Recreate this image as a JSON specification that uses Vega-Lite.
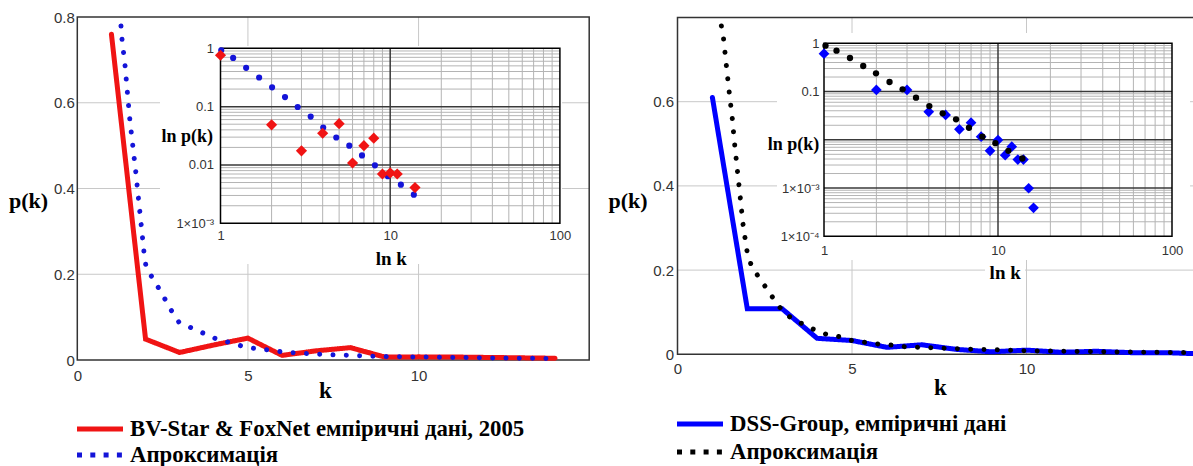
{
  "$schema": "https://vega.github.io/schema/vega-lite/v6.json",
  "width": 1193,
  "height": 466,
  "autosize": "none",
  "padding": 0,
  "background": "white",
  "config": {
    "view": {"stroke": null},
    "axis": {
      "domain": false, "ticks": false, "grid": false,
      "labelFont": "Liberation Sans Narrow, Liberation Sans, sans-serif",
      "labelColor": "#333", "labelFlush": false, "labelOverlap": false,
      "titleFont": "Liberation Serif", "titleFontWeight": "bold", "titleColor": "#000",
      "titleAlign": "center", "titleBaseline": "middle"
    }
  },
  "datasets": {
    "left_emp": [
      {"k": 1, "p": 0.76}, {"k": 2, "p": 0.0487}, {"k": 3, "p": 0.0175}, {"k": 4, "p": 0.035},
      {"k": 5, "p": 0.051}, {"k": 6, "p": 0.0108}, {"k": 7, "p": 0.0214}, {"k": 8, "p": 0.0288},
      {"k": 9, "p": 0.007}, {"k": 10, "p": 0.0073}, {"k": 11, "p": 0.007}, {"k": 14, "p": 0.0041}
    ],
    "left_fit_main": [
      {"k": 1.28, "p": 0.779}, {"k": 1.31, "p": 0.748}, {"k": 1.40, "p": 0.686}, {"k": 1.47, "p": 0.622},
      {"k": 1.54, "p": 0.56}, {"k": 1.63, "p": 0.497}, {"k": 1.72, "p": 0.434}, {"k": 1.80, "p": 0.371},
      {"k": 1.88, "p": 0.309}, {"k": 1.96, "p": 0.246}, {"k": 2.02, "p": 0.215}, {"k": 2.27, "p": 0.183},
      {"k": 2.50, "p": 0.152}, {"k": 2.72, "p": 0.12}, {"k": 2.98, "p": 0.088}, {"k": 3.37, "p": 0.074},
      {"k": 3.74, "p": 0.061}, {"k": 4.13, "p": 0.047}, {"k": 4.51, "p": 0.04}, {"k": 4.88, "p": 0.031},
      {"k": 5.26, "p": 0.026}, {"k": 5.63, "p": 0.023}, {"k": 6.0, "p": 0.019}, {"k": 6.5, "p": 0.016},
      {"k": 7.0, "p": 0.014}, {"k": 7.5, "p": 0.012}, {"k": 8.0, "p": 0.011}, {"k": 8.5, "p": 0.009},
      {"k": 9.0, "p": 0.008}, {"k": 10.0, "p": 0.007}, {"k": 11.0, "p": 0.006}, {"k": 12.0, "p": 0.005},
      {"k": 13.0, "p": 0.004}, {"k": 14.0, "p": 0.0035}
    ],
    "left_fit_inset": [
      {"k": 1.01, "p": 0.925}, {"k": 1.187, "p": 0.684}, {"k": 1.416, "p": 0.462}, {"k": 1.689, "p": 0.316},
      {"k": 2.014, "p": 0.214}, {"k": 2.40, "p": 0.146}, {"k": 2.85, "p": 0.0987}, {"k": 3.40, "p": 0.0675},
      {"k": 4.03, "p": 0.0438}, {"k": 4.81, "p": 0.0296}, {"k": 5.74, "p": 0.0214}, {"k": 6.82, "p": 0.0146},
      {"k": 8.13, "p": 0.00987}, {"k": 9.69, "p": 0.0064}, {"k": 11.56, "p": 0.0046}, {"k": 13.78, "p": 0.0031}
    ],
    "right_emp": [
      {"k": 1, "p": 0.61}, {"k": 2, "p": 0.108}, {"k": 3, "p": 0.108}, {"k": 4, "p": 0.038},
      {"k": 5, "p": 0.0327}, {"k": 6, "p": 0.0165}, {"k": 7, "p": 0.0226}, {"k": 8, "p": 0.0116},
      {"k": 9, "p": 0.0059}, {"k": 10, "p": 0.0099}, {"k": 11, "p": 0.0048}, {"k": 12, "p": 0.0072},
      {"k": 13, "p": 0.0039}, {"k": 14, "p": 0.0039}, {"k": 15, "p": 0.00099}, {"k": 16, "p": 0.00039}
    ],
    "right_fit_main": [
      {"k": 1.257, "p": 0.78}, {"k": 1.32, "p": 0.749}, {"k": 1.40, "p": 0.686}, {"k": 1.48, "p": 0.624},
      {"k": 1.57, "p": 0.56}, {"k": 1.64, "p": 0.497}, {"k": 1.72, "p": 0.434}, {"k": 1.80, "p": 0.371},
      {"k": 1.88, "p": 0.307}, {"k": 1.99, "p": 0.246}, {"k": 2.11, "p": 0.212}, {"k": 2.35, "p": 0.18},
      {"k": 2.61, "p": 0.15}, {"k": 2.85, "p": 0.119}, {"k": 3.13, "p": 0.093}, {"k": 3.49, "p": 0.076},
      {"k": 3.88, "p": 0.06}, {"k": 4.25, "p": 0.048}, {"k": 4.63, "p": 0.042}, {"k": 5.02, "p": 0.032},
      {"k": 5.40, "p": 0.028}, {"k": 5.76, "p": 0.0245}, {"k": 6.14, "p": 0.022}, {"k": 6.52, "p": 0.018},
      {"k": 6.9, "p": 0.0166}, {"k": 7.5, "p": 0.015}, {"k": 8.0, "p": 0.0135}, {"k": 8.42, "p": 0.012},
      {"k": 9.0, "p": 0.011}, {"k": 9.92, "p": 0.0086}, {"k": 11.0, "p": 0.0072}, {"k": 12.18, "p": 0.0062},
      {"k": 13.3, "p": 0.005}, {"k": 14.47, "p": 0.004}, {"k": 15.0, "p": 0.0038}
    ],
    "right_fit_inset": [
      {"k": 1.02, "p": 0.893}, {"k": 1.18, "p": 0.703}, {"k": 1.41, "p": 0.495}, {"k": 1.68, "p": 0.339},
      {"k": 1.99, "p": 0.239}, {"k": 2.38, "p": 0.158}, {"k": 2.83, "p": 0.111}, {"k": 3.38, "p": 0.0746},
      {"k": 4.03, "p": 0.05}, {"k": 4.81, "p": 0.0354}, {"k": 5.74, "p": 0.0266}, {"k": 6.81, "p": 0.0178},
      {"k": 8.13, "p": 0.0116}, {"k": 9.66, "p": 0.0085}, {"k": 11.47, "p": 0.0059}, {"k": 13.8, "p": 0.0041}
    ],
    "main_gx": [{"v": 5}, {"v": 10}],
    "main_gy": [{"v": 0.2}, {"v": 0.4}, {"v": 0.6}],
    "log_gx_minor": [
      {"v": 2}, {"v": 3}, {"v": 4}, {"v": 5}, {"v": 6}, {"v": 7}, {"v": 8}, {"v": 9},
      {"v": 20}, {"v": 30}, {"v": 40}, {"v": 50}, {"v": 60}, {"v": 70}, {"v": 80}, {"v": 90}
    ],
    "log_gx_major": [{"v": 10}],
    "left_gy_minor": [
      {"v": 0.002}, {"v": 0.003}, {"v": 0.004}, {"v": 0.005}, {"v": 0.006}, {"v": 0.007}, {"v": 0.008}, {"v": 0.009},
      {"v": 0.02}, {"v": 0.03}, {"v": 0.04}, {"v": 0.05}, {"v": 0.06}, {"v": 0.07}, {"v": 0.08}, {"v": 0.09},
      {"v": 0.2}, {"v": 0.3}, {"v": 0.4}, {"v": 0.5}, {"v": 0.6}, {"v": 0.7}, {"v": 0.8}, {"v": 0.9}
    ],
    "left_gy_major": [{"v": 0.01}, {"v": 0.1}],
    "right_gy_minor": [
      {"v": 0.0002}, {"v": 0.0003}, {"v": 0.0004}, {"v": 0.0005}, {"v": 0.0006}, {"v": 0.0007}, {"v": 0.0008}, {"v": 0.0009},
      {"v": 0.002}, {"v": 0.003}, {"v": 0.004}, {"v": 0.005}, {"v": 0.006}, {"v": 0.007}, {"v": 0.008}, {"v": 0.009},
      {"v": 0.02}, {"v": 0.03}, {"v": 0.04}, {"v": 0.05}, {"v": 0.06}, {"v": 0.07}, {"v": 0.08}, {"v": 0.09},
      {"v": 0.2}, {"v": 0.3}, {"v": 0.4}, {"v": 0.5}, {"v": 0.6}, {"v": 0.7}, {"v": 0.8}, {"v": 0.9}
    ],
    "right_gy_major": [{"v": 0.001}, {"v": 0.01}, {"v": 0.1}]
  },
  "layer": [
    {
      "layer": [
        {
          "data": {"name": "main_gx"},
          "mark": {"type": "rule", "color": "#c8c8c8", "strokeWidth": 1},
          "encoding": {
            "x": {"field": "v", "type": "quantitative"},
            "y": {"datum": 0, "type": "quantitative"},
            "y2": {"datum": 0.8}
          }
        },
        {
          "data": {"name": "main_gy"},
          "mark": {"type": "rule", "color": "#c8c8c8", "strokeWidth": 1},
          "encoding": {
            "y": {"field": "v", "type": "quantitative"},
            "x": {"datum": 0, "type": "quantitative"},
            "x2": {"datum": 15}
          }
        },
        {
          "data": {"values": [{}]},
          "mark": {"type": "rect", "filled": false, "color": "#333", "strokeWidth": 1.5},
          "encoding": {
            "x": {"datum": 0, "type": "quantitative"},
            "x2": {"datum": 15},
            "y": {"datum": 0, "type": "quantitative"},
            "y2": {"datum": 0.8}
          }
        },
        {
          "data": {"name": "left_emp"},
          "mark": {"type": "line", "strokeWidth": 5, "strokeCap": "round"},
          "encoding": {
            "x": {"field": "k", "type": "quantitative",
              "scale": {"domain": [0, 15], "range": [77.3, 589.2], "nice": false, "zero": false},
              "axis": {"orient": "bottom", "offset": -106, "values": [0, 5, 10], "format": "d",
                "labelFontSize": 15, "labelPadding": 8, "title": "k", "titleX": 325, "titleY": 30, "titleFontSize": 23}},
            "y": {"field": "p", "type": "quantitative",
              "scale": {"domain": [0, 0.8], "range": [360, 17], "nice": false, "zero": false},
              "axis": {"orient": "left", "offset": -77.3, "values": [0, 0.2, 0.4, 0.6, 0.8], "format": "~g",
                "labelFontSize": 15, "labelPadding": 3, "title": "p(k)", "titleAngle": 0,
                "titleX": -49.3, "titleY": 200, "titleFontSize": 22}},
            "color": {"datum": "BV-Star & FoxNet емпіричні дані, 2005", "type": "nominal",
              "scale": {"domain": ["BV-Star & FoxNet емпіричні дані, 2005", "Апроксимація"], "range": ["#f01414", "#1414d8"]},
              "legend": {"orient": "none", "legendX": 86, "legendY": 415, "title": null, "padding": 0,
                "symbolType": "M-2,0H2", "symbolSize": 529, "symbolStrokeWidth": 5, "labelOffset": 16, "rowPadding": 0,
                "labelFont": "Liberation Serif", "labelFontWeight": "bold", "labelFontSize": 22.8, "labelColor": "#000", "labelLimit": 0}},
            "strokeDash": {"datum": "BV-Star & FoxNet емпіричні дані, 2005", "type": "nominal",
              "scale": {"domain": ["BV-Star & FoxNet емпіричні дані, 2005", "Апроксимація"], "range": [[1, 0], [5, 8.3]]},
              "legend": {"orient": "none", "legendX": 86, "legendY": 415, "title": null, "padding": 0,
                "symbolType": "M-2,0H2", "symbolSize": 529, "symbolStrokeWidth": 5, "labelOffset": 16, "rowPadding": 0,
                "labelFont": "Liberation Serif", "labelFontWeight": "bold", "labelFontSize": 22.8, "labelColor": "#000", "labelLimit": 0}}
          }
        },
        {
          "data": {"name": "left_fit_main"},
          "mark": {"type": "line", "strokeWidth": 5, "strokeCap": "round", "strokeDash": [0.01, 13.3]},
          "encoding": {
            "x": {"field": "k", "type": "quantitative"},
            "y": {"field": "p", "type": "quantitative"},
            "color": {"datum": "Апроксимація", "type": "nominal"}
          }
        }
      ]
    },
    {
      "layer": [
        {
          "data": {"values": [{}]},
          "mark": {"type": "rect", "color": "white"},
          "encoding": {
            "x": {"datum": 0.44, "type": "quantitative"},
            "x2": {"datum": 103},
            "y": {"datum": 0.0002, "type": "quantitative"},
            "y2": {"datum": 1.1}
          }
        },
        {
          "data": {"name": "log_gx_minor"},
          "mark": {"type": "rule", "color": "#b4b4b4", "strokeWidth": 1},
          "encoding": {
            "x": {"field": "v", "type": "quantitative"},
            "y": {"datum": 0.001, "type": "quantitative"},
            "y2": {"datum": 1}
          }
        },
        {
          "data": {"name": "left_gy_minor"},
          "mark": {"type": "rule", "color": "#b4b4b4", "strokeWidth": 1},
          "encoding": {
            "y": {"field": "v", "type": "quantitative"},
            "x": {"datum": 1, "type": "quantitative"},
            "x2": {"datum": 100}
          }
        },
        {
          "data": {"name": "log_gx_major"},
          "mark": {"type": "rule", "color": "#3a3a3a", "strokeWidth": 1.5},
          "encoding": {
            "x": {"field": "v", "type": "quantitative"},
            "y": {"datum": 0.001, "type": "quantitative"},
            "y2": {"datum": 1}
          }
        },
        {
          "data": {"name": "left_gy_major"},
          "mark": {"type": "rule", "color": "#3a3a3a", "strokeWidth": 1.5},
          "encoding": {
            "y": {"field": "v", "type": "quantitative"},
            "x": {"datum": 1, "type": "quantitative"},
            "x2": {"datum": 100}
          }
        },
        {
          "data": {"values": [{}]},
          "mark": {"type": "rect", "filled": false, "color": "#000", "strokeWidth": 1.5},
          "encoding": {
            "x": {"datum": 1, "type": "quantitative"},
            "x2": {"datum": 100},
            "y": {"datum": 0.001, "type": "quantitative"},
            "y2": {"datum": 1}
          }
        },
        {
          "data": {"name": "left_fit_inset"},
          "mark": {"type": "point", "shape": "circle", "filled": true, "size": 38, "color": "#1414d8", "opacity": 1},
          "encoding": {
            "x": {"field": "k", "type": "quantitative",
              "scale": {"type": "log", "domain": [1, 100], "range": [220.5, 559.9], "nice": false},
              "axis": {"orient": "bottom", "offset": -242.7, "values": [1, 10, 100], "format": "d", "zindex": 1,
                "labelFontSize": 13, "labelPadding": 6, "title": "ln k", "titleX": 390.8, "titleY": 35, "titleFontSize": 19}},
            "y": {"field": "p", "type": "quantitative",
              "scale": {"type": "log", "domain": [0.001, 1], "range": [223.3, 48.3], "nice": false},
              "axis": {"orient": "left", "offset": -220.5, "values": [0.001, 0.01, 0.1, 1], "zindex": 1,
                "labelExpr": "datum.value < 0.0005 ? '1×10⁻⁴' : datum.value < 0.005 ? '1×10⁻³' : datum.value < 0.05 ? '0.01' : datum.value < 0.5 ? '0.1' : '1'",
                "labelFontSize": 13, "labelPadding": 7, "title": "ln p(k)", "titleAngle": 0,
                "titleX": -33.8, "titleY": 136, "titleFontSize": 18}}
          }
        },
        {
          "data": {"name": "left_emp"},
          "mark": {"type": "point", "shape": "diamond", "filled": true, "size": 125, "color": "#f01414", "opacity": 1},
          "encoding": {
            "x": {"field": "k", "type": "quantitative"},
            "y": {"field": "p", "type": "quantitative"}
          }
        }
      ]
    },
    {
      "layer": [
        {
          "data": {"name": "main_gx"},
          "mark": {"type": "rule", "color": "#c8c8c8", "strokeWidth": 1},
          "encoding": {
            "x": {"field": "v", "type": "quantitative"},
            "y": {"datum": 0, "type": "quantitative"},
            "y2": {"datum": 0.8}
          }
        },
        {
          "data": {"name": "main_gy"},
          "mark": {"type": "rule", "color": "#c8c8c8", "strokeWidth": 1},
          "encoding": {
            "y": {"field": "v", "type": "quantitative"},
            "x": {"datum": 0, "type": "quantitative"},
            "x2": {"datum": 15}
          }
        },
        {
          "data": {"values": [{}]},
          "mark": {"type": "rect", "filled": false, "color": "#333", "strokeWidth": 1.5},
          "encoding": {
            "x": {"datum": 0, "type": "quantitative"},
            "x2": {"datum": 15},
            "y": {"datum": 0, "type": "quantitative"},
            "y2": {"datum": 0.8}
          }
        },
        {
          "data": {"name": "right_emp"},
          "mark": {"type": "line", "strokeWidth": 5, "strokeCap": "round"},
          "encoding": {
            "x": {"field": "k", "type": "quantitative",
              "scale": {"domain": [0, 15], "range": [677.5, 1201], "nice": false, "zero": false},
              "axis": {"orient": "bottom", "offset": -111.7, "values": [0, 5, 10], "format": "d",
                "labelFontSize": 15, "labelPadding": 7, "title": "k", "titleX": 940, "titleY": 33, "titleFontSize": 23}},
            "y": {"field": "p", "type": "quantitative",
              "scale": {"domain": [0, 0.8], "range": [354.3, 17.5], "nice": false, "zero": false},
              "axis": {"orient": "left", "offset": -677.5, "values": [0, 0.2, 0.4, 0.6], "format": "~g",
                "labelFontSize": 15, "labelPadding": 4, "title": "p(k)", "titleAngle": 0,
                "titleX": -50, "titleY": 200, "titleFontSize": 22}},
            "color": {"datum": "DSS-Group, емпіричні дані", "type": "nominal",
              "scale": {"domain": ["DSS-Group, емпіричні дані", "Апроксимація"], "range": ["#0000ff", "#000000"]},
              "legend": {"orient": "none", "legendX": 686, "legendY": 410, "title": null, "padding": 0,
                "symbolType": "M-2,0H2", "symbolSize": 529, "symbolStrokeWidth": 5, "labelOffset": 16, "rowPadding": 2,
                "labelFont": "Liberation Serif", "labelFontWeight": "bold", "labelFontSize": 22.8, "labelColor": "#000", "labelLimit": 0}},
            "strokeDash": {"datum": "DSS-Group, емпіричні дані", "type": "nominal",
              "scale": {"domain": ["DSS-Group, емпіричні дані", "Апроксимація"], "range": [[1, 0], [5, 8.3]]},
              "legend": {"orient": "none", "legendX": 686, "legendY": 410, "title": null, "padding": 0,
                "symbolType": "M-2,0H2", "symbolSize": 529, "symbolStrokeWidth": 5, "labelOffset": 16, "rowPadding": 2,
                "labelFont": "Liberation Serif", "labelFontWeight": "bold", "labelFontSize": 22.8, "labelColor": "#000", "labelLimit": 0}}
          }
        },
        {
          "data": {"name": "right_fit_main"},
          "mark": {"type": "line", "strokeWidth": 5, "strokeCap": "round", "strokeDash": [0.01, 13.3]},
          "encoding": {
            "x": {"field": "k", "type": "quantitative"},
            "y": {"field": "p", "type": "quantitative"},
            "color": {"datum": "Апроксимація", "type": "nominal"}
          }
        }
      ]
    },
    {
      "layer": [
        {
          "data": {"values": [{}]},
          "mark": {"type": "rect", "color": "white"},
          "encoding": {
            "x": {"datum": 0.537, "type": "quantitative"},
            "x2": {"datum": 127},
            "y": {"datum": 0.0000323, "type": "quantitative"},
            "y2": {"datum": 1.63}
          }
        },
        {
          "data": {"values": [{}]},
          "mark": {"type": "rect", "color": "white"},
          "encoding": {
            "x": {"datum": 8.42, "type": "quantitative"},
            "x2": {"datum": 14.3},
            "y": {"datum": 0.0000108, "type": "quantitative"},
            "y2": {"datum": 0.0000323}
          }
        },
        {
          "data": {"name": "log_gx_minor"},
          "mark": {"type": "rule", "color": "#b4b4b4", "strokeWidth": 1},
          "encoding": {
            "x": {"field": "v", "type": "quantitative"},
            "y": {"datum": 0.0001, "type": "quantitative"},
            "y2": {"datum": 1}
          }
        },
        {
          "data": {"name": "right_gy_minor"},
          "mark": {"type": "rule", "color": "#b4b4b4", "strokeWidth": 1},
          "encoding": {
            "y": {"field": "v", "type": "quantitative"},
            "x": {"datum": 1, "type": "quantitative"},
            "x2": {"datum": 100}
          }
        },
        {
          "data": {"name": "log_gx_major"},
          "mark": {"type": "rule", "color": "#3a3a3a", "strokeWidth": 1.5},
          "encoding": {
            "x": {"field": "v", "type": "quantitative"},
            "y": {"datum": 0.0001, "type": "quantitative"},
            "y2": {"datum": 1}
          }
        },
        {
          "data": {"name": "right_gy_major"},
          "mark": {"type": "rule", "color": "#3a3a3a", "strokeWidth": 1.5},
          "encoding": {
            "y": {"field": "v", "type": "quantitative"},
            "x": {"datum": 1, "type": "quantitative"},
            "x2": {"datum": 100}
          }
        },
        {
          "data": {"values": [{}]},
          "mark": {"type": "rect", "filled": false, "color": "#000", "strokeWidth": 1.5},
          "encoding": {
            "x": {"datum": 1, "type": "quantitative"},
            "x2": {"datum": 100},
            "y": {"datum": 0.0001, "type": "quantitative"},
            "y2": {"datum": 1}
          }
        },
        {
          "data": {"name": "right_emp"},
          "mark": {"type": "point", "shape": "diamond", "filled": true, "size": 115, "color": "#0000ff", "opacity": 1},
          "encoding": {
            "x": {"field": "k", "type": "quantitative",
              "scale": {"type": "log", "domain": [1, 100], "range": [824, 1172], "nice": false},
              "axis": {"orient": "bottom", "offset": -229.7, "values": [1, 10, 100], "format": "d", "zindex": 1,
                "labelFontSize": 13, "labelPadding": 8, "title": "ln k", "titleX": 1004.7, "titleY": 36.4, "titleFontSize": 19}},
            "y": {"field": "p", "type": "quantitative",
              "scale": {"type": "log", "domain": [0.0001, 1], "range": [236.3, 43.3], "nice": false},
              "axis": {"orient": "left", "offset": -824, "values": [0.0001, 0.001, 0.1, 1], "zindex": 1,
                "labelExpr": "datum.value < 0.0005 ? '1×10⁻⁴' : datum.value < 0.005 ? '1×10⁻³' : datum.value < 0.05 ? '0.01' : datum.value < 0.5 ? '0.1' : '1'",
                "labelFontSize": 13, "labelPadding": 5, "title": "ln p(k)", "titleAngle": 0,
                "titleX": -31, "titleY": 144, "titleFontSize": 18}}
          }
        },
        {
          "data": {"name": "right_fit_inset"},
          "mark": {"type": "point", "shape": "circle", "filled": true, "size": 40, "color": "#000", "opacity": 1},
          "encoding": {
            "x": {"field": "k", "type": "quantitative"},
            "y": {"field": "p", "type": "quantitative"}
          }
        }
      ]
    }
  ],
  "resolve": {"scale": {"x": "independent", "y": "independent", "color": "independent", "strokeDash": "independent"}}
}
